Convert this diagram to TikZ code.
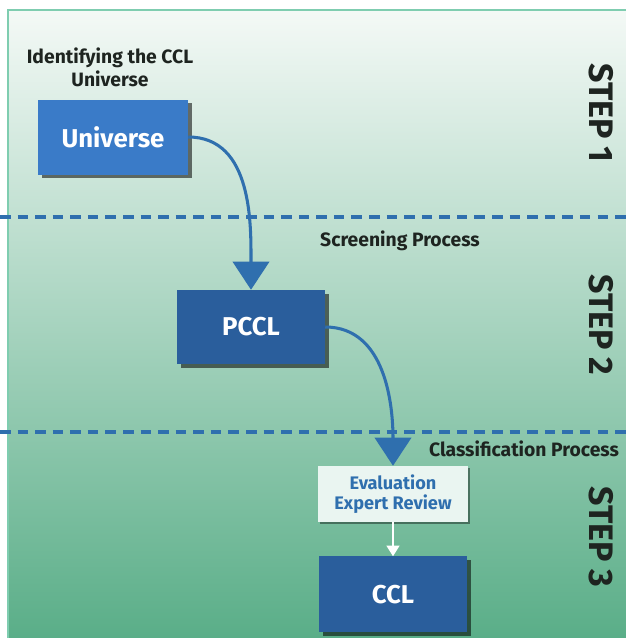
\documentclass[tikz,border=0pt]{standalone}
\usepackage{fontspec}
\setmainfont{Fira Sans}
\usetikzlibrary{arrows.meta,shadows,positioning}

\definecolor{topgreen}{HTML}{F4F9F6}
\definecolor{midgreen}{HTML}{8CC5A8}
\definecolor{botgreen}{HTML}{5AAE88}
\definecolor{framegreen}{HTML}{7FCDB0}
\definecolor{lightblue}{HTML}{3A7BC8}
\definecolor{darkblue}{HTML}{2A5E9C}
\definecolor{dashblue}{HTML}{2F6FAE}
\definecolor{paleface}{HTML}{EAF5F1}
\definecolor{textdark}{HTML}{1E2420}

\begin{document}
\begin{tikzpicture}[x=0.03cm,y=-0.03cm,
    stepbox/.style={rectangle, draw=none, text=white, font=\bfseries\fontsize{22}{25}\selectfont,
        minimum width=4.44cm, minimum height=2.22cm, inner sep=0pt,
        drop shadow={shadow xshift=3pt, shadow yshift=-3pt, opacity=0.55, fill=black}},
    reviewbox/.style={rectangle, fill=paleface, text=dashblue, text centered, align=center,
        font=\bfseries\fontsize{15.5}{17}\selectfont, minimum width=4.5cm, minimum height=1.68cm, inner sep=0pt,
        drop shadow={shadow xshift=2pt, shadow yshift=-2pt, opacity=0.4, fill=black}},
    caption/.style={text=textdark, align=center, font=\bfseries\fontsize{16.5}{19.5}\selectfont},
    steplabel/.style={text=textdark, rotate=-90, font=\bfseries\fontsize{29}{32}\selectfont},
    divider/.style={dashblue, line width=3.2pt, dash pattern=on 9pt off 6pt},
    flow/.style={dashblue, line width=2.6pt, -{Triangle[width=31pt,length=24pt]}}]

    \useasboundingbox (0,0) rectangle (626,638);
    % background panel
    \shade[top color=topgreen, middle color=midgreen, bottom color=botgreen] (8,10) rectangle (626,638);
    \draw[framegreen, line width=2pt] (8,638) -- (8,10) -- (626,10);

    % step dividers
    \draw[divider] (0,217) -- (626,217);
    \draw[divider] (0,432) -- (626,432);

    \node (Identify) [caption] at (110,67) {Identifying the CCL\\Universe};
    \node (Screening) [caption] at (400,241) {Screening Process};
    \node (Classification) [caption] at (524,449) {Classification Process};

    \node (Step1) [steplabel] at (601,113) {STEP 1};
    \node (Step2) [steplabel] at (601,325) {STEP 2};
    \node (Step3) [steplabel] at (601,537) {STEP 3};

    \node (Universe) [stepbox, fill=lightblue, minimum width=4.5cm, minimum height=2.25cm] at (113,137) {Universe};
    \node (PCCL) [stepbox, fill=darkblue] at (251,327) {PCCL};
    \node (Review) [reviewbox] at (393,494) {Evaluation\\Expert Review};
    \node (CCL) [stepbox, fill=darkblue, minimum height=2.28cm, below=1.02cm of Review] {CCL};

    \draw[flow] (Universe.east) to[out=0,in=90] (PCCL.north);
    \draw[flow] (PCCL.east) to[out=0,in=90] (Review.north);
    \draw[white, line width=1.2pt, -{Triangle[width=11pt,length=9pt]}] (Review.south) -- (CCL.north);
\end{tikzpicture}
\end{document}
